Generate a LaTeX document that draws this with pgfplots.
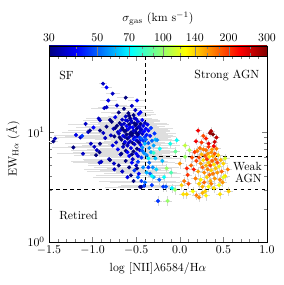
\documentclass[border=0pt]{standalone}
\usepackage{pgfplots}
\usepackage{pgfplotstable}
\pgfplotsset{compat=1.18}

\pgfplotstableread{
x y s ex
-1.45 8.3 30 0.05
-1.43 8.8 35 0.05
-1.22 7.3 30 0.25
-1.19 9.5 38 0.25
-1.14 9.0 35 0.3
-1.12 9.3 45 0.2
-1.11 6.4 35 0.3
-1.08 12.0 35 0.2
-1.05 10.1 35 0.3
-1.03 10.4 30 0.25
-1.02 7.9 35 0.3
-0.99 11.1 40 0.2
-0.98 7.4 35 0.3
-0.96 6.2 30 0.25
-0.95 6.9 35 0.3
-0.93 13.4 35 0.15
-0.92 6.6 30 0.3
-0.92 5.3 35 0.3
-0.915 10.4 30 0.2
-0.915 12.9 35 0.2
-0.915 7.9 30 0.3
-0.90 5.4 35 0.35
-0.88 27.9 35 0.05
-0.877 9.9 35 0.25
-0.866 16.7 35 0.15
-0.855 8.9 35 0.3
-0.84 11.3 30 0.25
-0.84 25.8 40 0.06
-0.84 17.0 35 0.1
-0.82 19.6 38 0.1
-0.81 5.7 35 0.3
-0.80 5.6 30 0.3
-0.80 13.0 30 0.2
-0.79 9.4 35 0.3
-0.78 12.5 30 0.25
-0.77 22.6 35 0.08
-0.77 7.6 38 0.35
-0.76 10.8 35 0.3
-0.755 5.2 35 0.3
-0.75 9.2 30 0.35
-0.75 4.6 35 0.35
-0.74 13.8 38 0.2
-0.74 11.0 30 0.3
-0.73 8.1 35 0.35
-0.72 11.5 30 0.3
-0.72 17.6 35 0.12
-0.71 7.0 40 0.35
-0.71 10.1 35 0.3
-0.70 15.2 30 0.2
-0.70 9.8 35 0.3
-0.70 5.0 30 0.35
-0.69 12.2 30 0.25
-0.69 9.0 30 0.3
-0.68 6.3 35 0.35
-0.68 10.5 38 0.3
-0.67 8.6 30 0.3
-0.67 6.4 30 0.35
-0.67 11.7 35 0.25
-0.66 13.1 35 0.25
-0.66 11.0 30 0.3
-0.66 4.4 35 0.4
-0.65 9.3 40 0.3
-0.65 7.4 35 0.35
-0.65 10.6 30 0.3
-0.64 16.5 30 0.2
-0.64 12.0 35 0.25
-0.64 7.9 30 0.35
-0.63 10.2 30 0.3
-0.63 8.2 38 0.35
-0.63 9.1 35 0.3
-0.62 14.0 35 0.2
-0.62 6.8 30 0.35
-0.62 5.5 30 0.4
-0.62 20.8 30 0.1
-0.62 12.9 38 0.25
-0.61 11.4 40 0.3
-0.61 9.6 30 0.3
-0.61 10.5 30 0.3
-0.60 12.8 35 0.25
-0.60 8.8 30 0.3
-0.60 7.6 35 0.35
-0.60 3.9 38 0.4
-0.60 6.6 40 0.35
-0.59 10.7 38 0.3
-0.59 15.0 30 0.2
-0.59 8.0 35 0.3
-0.58 9.1 35 0.3
-0.58 11.9 30 0.25
-0.58 6.1 40 0.35
-0.58 4.8 30 0.4
-0.58 14.2 30 0.2
-0.57 13.5 30 0.25
-0.57 8.3 35 0.3
-0.57 11.2 38 0.25
-0.57 9.7 30 0.3
-0.56 10.0 30 0.3
-0.56 7.2 38 0.35
-0.56 4.06 30 0.4
-0.56 12.9 35 0.25
-0.55 12.4 35 0.25
-0.55 9.4 30 0.3
-0.55 17.5 35 0.15
-0.55 5.3 40 0.35
-0.55 6.3 30 0.35
-0.54 11.1 40 0.3
-0.54 8.0 30 0.3
-0.54 5.7 35 0.35
-0.54 9.8 30 0.3
-0.53 14.4 30 0.2
-0.53 10.4 35 0.3
-0.53 6.7 30 0.35
-0.53 3.6 30 0.4
-0.53 8.7 40 0.3
-0.52 9.0 38 0.3
-0.52 12.1 30 0.25
-0.52 7.8 35 0.3
-0.52 4.5 45 0.4
-0.52 13.5 35 0.2
-0.51 11.6 30 0.25
-0.51 8.6 45 0.3
-0.51 16.0 35 0.2
-0.51 10.3 35 0.3
-0.50 9.9 30 0.3
-0.50 6.4 40 0.35
-0.50 13.2 35 0.25
-0.50 5.0 35 0.35
-0.50 11.9 30 0.25
-0.49 10.9 30 0.3
-0.49 8.4 35 0.3
-0.49 7.1 30 0.35
-0.49 19.6 40 0.1
-0.49 4.7 30 0.35
-0.49 9.2 38 0.3
-0.48 12.6 38 0.25
-0.48 9.5 30 0.3
-0.48 5.4 45 0.35
-0.48 3.9 50 0.4
-0.48 6.1 38 0.35
-0.47 11.3 35 0.25
-0.47 8.1 30 0.3
-0.47 14.8 40 0.2
-0.47 4.2 40 0.4
-0.47 9.9 30 0.3
-0.46 10.1 35 0.3
-0.46 6.9 38 0.35
-0.46 9.0 45 0.3
-0.46 11.0 35 0.25
-0.455 3.18 30 0.4
-0.45 12.0 30 0.25
-0.45 7.7 40 0.3
-0.45 15.3 40 0.15
-0.45 8.6 40 0.3
-0.44 10.6 35 0.3
-0.44 8.8 50 0.3
-0.44 5.9 45 0.35
-0.44 3.6 45 0.4
-0.44 3.18 30 0.3
-0.43 13.0 40 0.2
-0.43 9.7 35 0.3
-0.43 7.3 55 0.3
-0.43 6.8 50 0.35
-0.42 11.5 38 0.25
-0.42 8.4 45 0.3
-0.42 4.8 55 0.35
-0.41 10.2 40 0.3
-0.41 6.5 55 0.3
-0.41 3.25 45 0.3
-0.40 9.1 45 0.3
-0.40 12.2 35 0.25
-0.40 7.9 60 0.3
-0.40 3.5 50 0.4
-0.39 10.8 40 0.25
-0.39 8.6 50 0.3
-0.38 6.2 55 0.3
-0.38 9.5 42 0.3
-0.38 4.3 60 0.35
-0.37 11.8 38 0.25
-0.36 8.0 48 0.3
-0.36 10.4 40 0.25
-0.36 4.8 45 0.35
-0.35 7.2 55 0.3
-0.35 5.3 50 0.3
-0.34 9.3 42 0.3
-0.34 4.2 50 0.35
-0.33 6.6 60 0.3
-0.33 11.0 45 0.25
-0.32 8.4 50 0.3
-0.32 3.3 45 0.35
-0.31 4.8 55 0.3
-0.30 7.6 58 0.3
-0.30 3.9 60 0.3
-0.29 9.8 45 0.25
-0.28 5.8 62 0.3
}\sfdata

\pgfplotstableread{
x y s ex ey
-0.28 8.6 62 0.05 0.08
-0.26 8.5 55 0.05 0.08
-0.23 7.1 72 0.05 0.08
-0.11 7.9 75 0.04 0.08
-0.035 8.5 72 0.04 0.08
0.06 7.6 110 0.04 0.08
0.06 6.0 100 0.05 0.1
0.11 6.9 105 0.04 0.1
-0.15 4.7 100 0.05 0.1
0.00 5.2 160 0.05 0.1
0.09 4.1 200 0.05 0.1
-0.18 3.9 72 0.05 0.1
-0.235 3.7 50 0.05 0.1
-0.19 3.2 45 0.05 0.1
-0.16 3.2 48 0.05 0.1
-0.09 3.1 70 0.05 0.1
-0.055 3.0 100 0.05 0.1
-0.20 5.5 60 0.05 0.1
-0.10 4.3 85 0.05 0.1
0.05 3.6 170 0.05 0.1
0.02 3.3 140 0.05 0.1
-0.27 4.6 65 0.05 0.1
0.13 5.0 180 0.04 0.1
0.10 3.4 190 0.04 0.1
0.08 4.7 210 0.04 0.1
-0.25 2.37 45 0.05 0.1
-0.14 2.37 100 0.05 0.1
-0.32 4.0 72 0.05 0.1
-0.36 5.8 70 0.05 0.1
-0.30 6.5 80 0.05 0.1
-0.05 6.7 90 0.05 0.1
0.21 10.4 230 0.04 0.08
0.346 9.9 280 0.04 0.08
0.38 9.6 300 0.04 0.08
0.36 10.3 270 0.04 0.08
0.40 8.2 250 0.04 0.08
0.186 8.3 230 0.04 0.08
0.30 8.8 210 0.04 0.08
0.33 7.9 240 0.04 0.08
0.25 8.1 200 0.04 0.08
0.42 9.0 260 0.04 0.08
0.27 9.3 190 0.04 0.08
0.39 7.5 230 0.04 0.08
0.20 6.8 170 0.05 0.1
0.22 5.9 190 0.05 0.1
0.23 7.2 175 0.05 0.1
0.24 5.2 160 0.05 0.1
0.25 6.3 150 0.05 0.1
0.26 4.8 180 0.05 0.1
0.27 7.0 170 0.05 0.1
0.27 5.6 135 0.05 0.1
0.28 4.3 165 0.05 0.1
0.29 6.1 185 0.05 0.1
0.30 5.0 150 0.05 0.1
0.30 6.9 175 0.05 0.1
0.31 3.9 140 0.05 0.1
0.31 5.7 200 0.05 0.1
0.32 4.6 170 0.05 0.1
0.32 6.4 160 0.05 0.1
0.33 5.3 145 0.05 0.1
0.33 7.4 200 0.05 0.1
0.34 4.1 175 0.05 0.1
0.34 6.0 130 0.05 0.1
0.35 5.0 190 0.05 0.1
0.35 3.6 150 0.05 0.1
0.36 6.6 165 0.05 0.1
0.36 4.5 140 0.05 0.1
0.37 5.5 180 0.05 0.1
0.37 7.0 160 0.05 0.1
0.38 4.2 170 0.05 0.1
0.38 6.1 150 0.05 0.1
0.39 5.1 135 0.05 0.1
0.40 3.8 160 0.05 0.1
0.40 6.4 185 0.05 0.1
0.41 4.7 145 0.05 0.1
0.41 5.7 175 0.05 0.1
0.42 7.1 170 0.05 0.1
0.43 4.3 160 0.05 0.1
0.43 5.3 190 0.05 0.1
0.44 6.2 140 0.05 0.1
0.45 4.9 130 0.05 0.1
0.46 3.7 165 0.05 0.1
0.47 5.6 150 0.05 0.1
0.48 4.4 180 0.05 0.1
0.50 5.2 140 0.05 0.1
0.52 4.0 135 0.05 0.1
0.55 4.6 170 0.05 0.1
0.52 5.8 115 0.05 0.1
0.50 3.9 120 0.05 0.1
0.21 4.4 155 0.05 0.1
0.19 5.5 195 0.05 0.1
0.18 3.8 170 0.05 0.1
0.22 3.4 140 0.05 0.1
0.24 3.7 130 0.05 0.1
0.26 3.2 150 0.05 0.1
0.28 3.5 180 0.05 0.1
0.29 2.9 140 0.05 0.1
0.33 3.2 125 0.05 0.1
0.36 3.4 170 0.05 0.1
0.39 3.1 135 0.05 0.1
0.45 3.3 125 0.05 0.1
0.49 3.5 160 0.05 0.1
0.16 4.6 215 0.05 0.1
0.14 5.9 190 0.05 0.1
0.17 6.6 200 0.05 0.1
0.04 2.73 135 0.05 0.1
0.08 2.73 140 0.05 0.1
0.19 2.67 170 0.05 0.1
0.46 2.73 135 0.05 0.1
0.22 2.55 165 0.05 0.1
0.26 2.8 150 0.05 0.1
0.15 2.9 125 0.05 0.1
0.56 2.9 140 0.05 0.1
0.30 2.65 130 0.05 0.1
}\agndata

\begin{document}
\begin{tikzpicture}
\path[use as bounding box] (-41.4pt,-36.4pt) rectangle (198.6pt,204.5pt);
\begin{axis}[
  scale only axis,
  width=184.3pt, height=157.2pt,
  xmin=-1.5, xmax=1.0,
  ymode=log, ymin=1, ymax=50,
  xtick={-1.5,-1.0,-0.5,0.0,0.5,1.0},
  xticklabel style={/pgf/number format/.cd, fixed, fixed zerofill, precision=1},
  minor x tick num=4,
  ytick={1,10},
  tick align=inside,
  xlabel={$\log$ [NII]$\lambda$6584/H$\alpha$},
  ylabel={EW$_{\mathrm{H}\alpha}$ (\AA)},
  colormap/jet,
  point meta min=1.4771, point meta max=2.4771,
  colorbar horizontal,
  colorbar style={
    at={(0,1)}, anchor=south west, yshift=2.5pt,
    scale only axis, width=184.3pt, height=8.5pt,
    xticklabel pos=upper,
    xtick={1.4771,1.6990,1.8451,2,2.1461,2.3010,2.4771},
    xticklabels={30,50,70,100,140,200,300},
    minor xtick={1.6021,1.7782,1.9031,1.9542,2.0792,2.2041,2.2553,2.3979},
    xtick align=inside,
    xlabel={$\sigma_{\mathrm{gas}}$ (km s$^{-1}$)},
  },
]
% error bars first (no markers)
\addplot[no markers, draw=none, forget plot,
  error bars/.cd, x dir=both, x explicit,
  error bar style={draw=black!13, line width=0.5pt}, error mark=none]
  table[x=x, y=y, x error=ex] {\sfdata};
\addplot[no markers, draw=none, forget plot,
  error bars/.cd, x dir=both, x explicit, y dir=both, y explicit relative,
  error bar style={draw=black!16, line width=0.5pt}, error mark=none]
  table[x=x, y=y, x error=ex, y error=ey] {\agndata};
% points
\addplot[scatter, only marks, mark=*, mark size=1.5pt,
  scatter/use mapped color={draw=mapped color, fill=mapped color},
  point meta={ln(\thisrow{s})/ln(10)}]
  table[x=x, y=y] {\sfdata};
\addplot[scatter, only marks, mark=*, mark size=1.5pt,
  scatter/use mapped color={draw=mapped color, fill=mapped color},
  point meta={ln(\thisrow{s})/ln(10)}]
  table[x=x, y=y] {\agndata};
% dividing lines
\addplot[black, dashed, line width=0.6pt] coordinates {(-0.4,50) (-0.4,3)};
\addplot[black, dashed, line width=0.6pt] coordinates {(-0.4,6) (1.0,6)};
\addplot[black, dashed, line width=0.6pt] coordinates {(-1.5,3) (1.0,3)};
\node[anchor=west] at (axis cs:-1.43,33) {SF};
\node[anchor=east] at (axis cs:0.96,33) {Strong AGN};
\node[anchor=east, align=right, inner sep=2pt] at (axis cs:0.97,4.3) {Weak\\[-2pt]AGN};
\node[anchor=west] at (axis cs:-1.43,1.75) {Retired};
\end{axis}
\end{tikzpicture}
\end{document}
